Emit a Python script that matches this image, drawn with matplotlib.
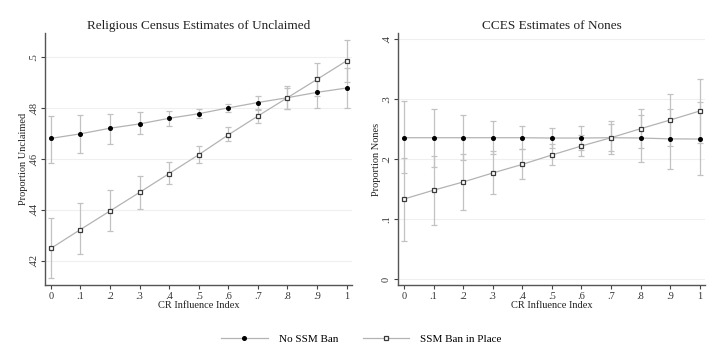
import matplotlib
matplotlib.use("Agg")
import matplotlib.pyplot as plt
from matplotlib.lines import Line2D

plt.rcParams['font.family'] = ['Liberation Serif', 'DejaVu Serif']

# CR influence index values
cr = [0, .1, .2, .3, .4, .5, .6, .7, .8, .9, 1]
cr_labels = ['0', '.1', '.2', '.3', '.4', '.5', '.6', '.7', '.8', '.9', '1']

# Religious Census estimates of unclaimed
rc_noban = [.4681, .4699, .4721, .4738, .4760, .4778, .4801, .4822, .4841, .4862, .4879]
rc_noban_lo = [.4586, .4624, .4659, .4699, .4730, .4760, .4783, .4795, .4795, .4800, .4800]
rc_noban_hi = [.4769, .4774, .4778, .4783, .4787, .4797, .4818, .4849, .4878, .4924, .4958]
rc_ban = [.4249, .4323, .4396, .4469, .4543, .4617, .4695, .4769, .4841, .4913, .4986]
rc_ban_lo = [.4131, .4225, .4317, .4405, .4503, .4586, .4671, .4741, .4795, .4848, .4903]
rc_ban_hi = [.4370, .4426, .4480, .4535, .4590, .4650, .4724, .4793, .4886, .4979, .5068]

# CCES estimates of nones
cc_noban = [.2355, .2355, .2355, .2355, .2355, .2350, .2350, .2355, .2350, .2336, .2333]
cc_noban_lo = [.1767, .1867, .1977, .2088, .2167, .2183, .2155, .2083, .1950, .1838, .1727]
cc_noban_hi = [.2960, .2833, .2738, .2627, .2543, .2510, .2543, .2627, .2738, .2838, .2943]
cc_ban = [.1333, .1480, .1617, .1767, .1910, .2067, .2217, .2355, .2505, .2650, .2800]
cc_ban_lo = [.0640, .0895, .1155, .1422, .1667, .1893, .2045, .2127, .2183, .2217, .2267]
cc_ban_hi = [.2017, .2045, .2088, .2127, .2167, .2255, .2395, .2583, .2833, .3083, .3333]

line_col = '#b3b3b3'
ci_col = '#c2c2c2'


def draw_panel(ax, title, ylab, noban, nb_lo, nb_hi, ban, b_lo, b_hi, yticks, ylabels, ylim):
    for ys, lo, hi in [(noban, nb_lo, nb_hi), (ban, b_lo, b_hi)]:
        err = [[y - l for y, l in zip(ys, lo)], [h - y for y, h in zip(ys, hi)]]
        ax.errorbar(cr, ys, yerr=err, fmt='none', ecolor=ci_col, elinewidth=0.9,
                    capsize=2.3, capthick=0.9, zorder=2)
    ax.plot(cr, noban, color=line_col, lw=0.9, marker='o', ms=2.6,
            mfc='black', mec='black', zorder=3)
    ax.plot(cr, ban, color=line_col, lw=0.9, marker='s', ms=3.4,
            mfc='white', mec='#3a3a3a', mew=0.9, zorder=4)
    ax.set_xlim(-0.02, 1.018)
    ax.set_ylim(*ylim)
    ax.set_xticks(cr)
    ax.set_xticklabels(cr_labels)
    ax.set_yticks(yticks)
    ax.set_yticklabels(ylabels, rotation=90, va='center')
    for t in yticks:
        ax.axhline(t, color='#eef0f0', lw=0.8, zorder=0)
    ax.set_title(title, fontsize=9.5, color='#222222', pad=3)
    ax.set_xlabel('CR Influence Index', fontsize=7.5, labelpad=0, color='#222222')
    ax.set_ylabel(ylab, fontsize=7.5, labelpad=1, color='#222222')
    ax.tick_params(labelsize=7.5, length=3, width=0.8, color='#444444',
                   labelcolor='#333333', pad=2)
    for s in ['top', 'right']:
        ax.spines[s].set_visible(False)
    for s in ['left', 'bottom']:
        ax.spines[s].set_color('#555555')
        ax.spines[s].set_linewidth(1.0)


fig = plt.figure(figsize=(7.23, 3.61), dpi=100)
ax1 = fig.add_axes([0.0622, 0.2105, 0.4246, 0.698])
ax2 = fig.add_axes([0.5505, 0.2105, 0.4246, 0.698])

draw_panel(ax1, 'Religious Census Estimates of Unclaimed', 'Proportion Unclaimed',
           rc_noban, rc_noban_lo, rc_noban_hi, rc_ban, rc_ban_lo, rc_ban_hi,
           [.42, .44, .46, .48, .5], ['.42', '.44', '.46', '.48', '.5'], (.4105, .5095))
draw_panel(ax2, 'CCES Estimates of Nones', 'Proportion Nones',
           cc_noban, cc_noban_lo, cc_noban_hi, cc_ban, cc_ban_lo, cc_ban_hi,
           [0, .1, .2, .3, .4], ['0', '.1', '.2', '.3', '.4'], (-.01, .41))

handles = [
    Line2D([], [], color=line_col, lw=0.9, marker='o', ms=2.6, mfc='black', mec='black'),
    Line2D([], [], color=line_col, lw=0.9, marker='s', ms=3.4, mfc='white', mec='#3a3a3a', mew=0.9),
]
fig.legend(handles, ['No SSM Ban', 'SSM Ban in Place'], loc='center',
           bbox_to_anchor=(0.5, 0.062), ncol=2, frameon=False, fontsize=8,
           handlelength=4.2, columnspacing=2.2, handletextpad=1.0)

fig.savefig('out.png', dpi=100, facecolor='white')
